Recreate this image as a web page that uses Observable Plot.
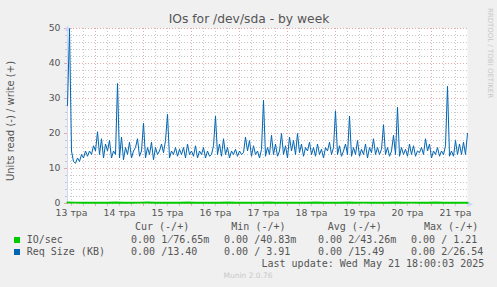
<!DOCTYPE html>
<html><head><meta charset="utf-8">
<script src="https://cdn.jsdelivr.net/npm/d3@7"></script>
<script src="https://cdn.jsdelivr.net/npm/@observablehq/plot@0.6"></script>
<style>
body{margin:0;background:#f0f0f0;}
#wrap{position:relative;width:497px;height:287px;overflow:hidden;font-family:"DejaVu Sans";color:#555;}
#wrap svg{position:absolute;left:0;top:0;}
.t{position:absolute;white-space:pre;line-height:1;}
.m{font-family:"DejaVu Sans Mono";font-size:10px;}
.sq{position:absolute;width:6px;height:6px;}
</style></head><body><div id="wrap"></div>
<script>
// ---- data ----
const dayLabels = ["13 тра","14 тра","15 тра","16 тра","17 тра","18 тра","19 тра","20 тра","21 тра"];
const yTicks = [0,10,20,30,40,50];
// Req Size (KB), hourly from 13 May 10:00 to 21 May 18:00
const reqSize = [
28,50,15,12,11.5,13,12,14,13,15,13.5,15,14,16.5,15,20.5,14,18.5,13,17,
15,18,13,15,14,34.3,13,19,12.5,16,14,17.5,13,15,16,18.5,13.5,15,23,13,
16,14,17.5,12.5,16,14,15,17,14.5,18,25.5,13,15,14,16,13.5,15.5,14,16,13,
17,14,15,13.5,16.5,13,15,14,16,13,15,13.5,14,16.5,25,14,17,13.5,18.5,14,
16,13,15,14,15.5,13.5,15,14,14.5,19,15,18,13.5,16.5,14,15,13,15.5,29.5,13.5,
16,14,19.5,14,17,13.5,15,20,14,16.5,13,19,15,18,14,20,14.5,17,13.5,16,
15,17.5,14,16,13.5,17,14,15.5,13,16,15,17.5,14,16,26.5,14,16.5,13.5,15,17,
14,25,13.5,16,14,18,13.5,15.5,14,17,13,16,14.5,18.5,14,16,14,15.5,22.5,14,
16,13.5,15,19.5,14,27.5,13.5,16,14,15.5,13.5,17,14,16.5,13.5,15,14.5,16,14,18.5,
15,17,13,15,14,16,13.5,15,14,16.5,33.5,13.5,15,13.5,18,14,17,14,17.5,14,20
];
// IO/sec, every 4 hours
const ioSec = [
0.3,0.25,0.2,0.22,0.24,0.21,0.26,0.23,0.2,0.25,0.27,0.22,0.24,0.2,0.23,0.26,0.22,
0.25,0.21,0.24,0.28,0.22,0.2,0.25,0.23,0.26,0.22,0.24,0.21,0.25,0.23,0.27,0.22,0.24,
0.2,0.26,0.23,0.25,0.22,0.24,0.21,0.26,0.23,0.25,0.22,0.24,0.27,0.21,0.23,0.2,0.18
];
const legendNames = ["IO/sec","Req Size (KB)"];
const legendColors = ["#00CC00","#0066B3"];
const statHeaders = ["Cur (-/+)","Min (-/+)","Avg (-/+)","Max (-/+)"];
const curStats = ["0.00/176.65m","0.00/13.40"];
const minStats = ["0.00/40.83m","0.00/3.91"];
const avgStats = ["0.00/243.26m","0.00/15.49"];
const maxStats = ["0.00/1.21","0.00/226.54"];
const lastUpdate = "Last update: Wed May 21 18:00:03 2025";

// ---- build ----
const hour = 3600e3;
const start = new Date(Date.UTC(2025,4,13,10));
const end = new Date(start.getTime() + 200*hour);
const reqData = reqSize.map((v,i)=>({t:new Date(start.getTime()+i*hour), v}));
const ioData = ioSec.map((v,i)=>({t:new Date(start.getTime()+i*4*hour), v}));
const dayTicks = dayLabels.map((_,i)=>new Date(Date.UTC(2025,4,13+i,12)));
const midnights = d3.utcDay.range(start, end);
const sixHours = d3.utcHour.every(6).range(start, end).filter(d=>d.getUTCHours()!==0);
const minorY = d3.range(0,51,2).filter(v=>v%10!==0);
const labelOf = d => dayLabels[dayTicks.findIndex(t=>+t===+d)];
const major = "#e7a8a8", minor = "#c9c9c9";

const chart = Plot.plot({
  width:497, height:287,
  marginLeft:67, marginRight:30, marginTop:28, marginBottom:84,
  style:{background:"transparent", fontFamily:"DejaVu Sans", fontSize:"9.3px", color:"#555"},
  x:{type:"utc", domain:[start,end]},
  y:{domain:[0,50]},
  marks:[
    Plot.frame({fill:"#fff", stroke:null}),
    Plot.ruleY(minorY,{stroke:minor, strokeDasharray:"1,2"}),
    Plot.ruleX(sixHours,{stroke:minor, strokeDasharray:"1,2"}),
    Plot.ruleY(yTicks,{stroke:major, strokeDasharray:"1,2"}),
    Plot.ruleX(midnights,{stroke:major, strokeDasharray:"1,2"}),
    Plot.axisX(sixHours,{tickSize:3, stroke:minor, fill:"none"}),
    Plot.axisX(midnights,{tickSize:3, stroke:major, fill:"none"}),
    Plot.axisY(minorY,{tickSize:2, stroke:minor, fill:"none"}),
    Plot.axisY(yTicks,{tickSize:3, stroke:major, fill:"none"}),
    Plot.axisX(dayTicks,{tickSize:0, tickPadding:6, tickFormat:labelOf, label:null}),
    Plot.axisY(yTicks,{tickSize:0, tickPadding:7, label:null}),
    Plot.ruleX([start],{stroke:"#CFD6F8"}),
    Plot.text([0],{frameAnchor:"top-left", text:()=>"▲", textAnchor:"middle", lineAnchor:"bottom", dy:1, fill:"#CFD6F8", fontSize:7}),
    Plot.text([0],{frameAnchor:"bottom-right", text:()=>"▶", textAnchor:"start", lineAnchor:"middle", dx:0, fill:"#CFD6F8", fontSize:7}),
    Plot.line(ioData,{x:"t", y:"v", stroke:"#00CC00", strokeWidth:2}),
    Plot.line(reqData,{x:"t", y:"v", stroke:"#0066B3", strokeWidth:1})
  ]
});
const wrap = document.getElementById("wrap");
wrap.appendChild(chart);

function add(text, cls, left, top, extra){
  const d = document.createElement("div");
  d.className = "t " + (cls||"");
  d.textContent = text;
  d.style.left = left + "px"; d.style.top = top + "px";
  if (extra) Object.assign(d.style, extra);
  wrap.appendChild(d);
  return d;
}
// title
add("IOs for /dev/sda - by week","",249,12.6,{fontSize:"12.3px",transform:"translateX(-50%)"});
// y label
add("Units read (-) / write (+)","",10.5,121,{fontSize:"10px",transform:"translate(-50%,-50%) rotate(-90deg)"});
// rrdtool credit
add("RRDTOOL / TOBI OETIKER","",489,53,{fontSize:"7px",color:"#c8c8c8",transform:"translate(-50%,-50%) rotate(90deg)"});
// munin
add("Munin 2.0.76","",248,272,{fontSize:"7.5px",color:"#c8c8c8",transform:"translateX(-50%)"});
// legend header
add(statHeaders.join("       "),"m",135,222.2);
// rrdtool glues "/" onto the next value, so the slash shares a cell with its first character
function fmt(s){
  const [a,b] = s.split("/");
  const pad = v => v.endsWith("m") ? v.slice(0,-1).padStart(6)+"m" : v.padStart(6)+" ";
  const second = pad(b);
  const glued = second[0] === " " ? "/" + second.slice(1) : second[0] + "\u0338" + second.slice(1);
  return pad(a) + glued;
}
const cols = [curStats,minStats,avgStats,maxStats];
const colX = [119,212,306,399];
const rowTop = [234.8,246.5];
const sqTop = [237,249];
legendNames.forEach((name,r)=>{
  const s = document.createElement("div");
  s.className = "sq"; s.style.left = "14px"; s.style.top = sqTop[r]+"px"; s.style.background = legendColors[r];
  wrap.appendChild(s);
  add(name,"m",26.7,rowTop[r]);
  cols.forEach((c,k)=>add(fmt(c[r]),"m",colX[k],rowTop[r]));
});
add(lastUpdate,"m",261.5,258.8);
</script>
</body></html>
